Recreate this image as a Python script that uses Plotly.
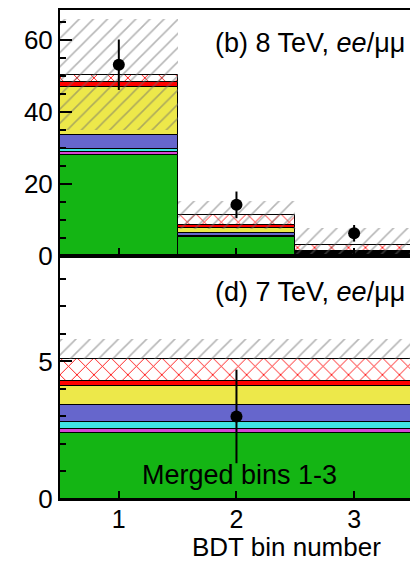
import numpy as np
import plotly.graph_objects as go

# ---------------- data ----------------
bins_top = [1, 2, 3]
# stacked components, bottom to top (8 TeV)
green_top = [28.0, 5.3, 0.5]
magenta_top = [0.8, 0.1, 0.1]
cyan_top = [0.8, 0.1, 0.1]
blue_top = [4.0, 1.0, 0.3]
yellow_top = [13.2, 1.3, 0.2]
red_top = [1.5, 0.8, 0.2]
redhatch_top = [2.0, 2.8, 1.6]
band_lo_top = [35.0, 7.4, 0.0]
band_hi_top = [65.7, 15.4, 7.9]
data_top = [53.1, 14.2, 6.3]
data_err_top = [7.0, 3.7, 2.3]

# 7 TeV merged bin
bins_bot = [2]
green_bot = [2.4]
magenta_bot = [0.15]
cyan_bot = [0.25]
blue_bot = [0.6]
yellow_bot = [0.7]
red_bot = [0.2]
redhatch_bot = [0.8]
band_lo_bot = [5.1]
band_hi_bot = [5.8]
data_bot = [3.0]
data_err_bot = [1.7]

GREEN = "#14B514"
MAGENTA = "#D545D5"
CYAN = "#3FE3E3"
BLUE = "#6666CC"
YELLOW = "#EDE84A"
RED = "#FF0000"

FONT = "Liberation Sans, Arial, Helvetica, sans-serif"
FS = 27
FS_TICK = 25

fig = go.Figure()


def add_stack(x, width, comps, xa, ya):
    base = np.zeros(len(x))
    for vals, col, hatch in comps:
        vals = np.array(vals, dtype=float)
        marker = dict(color=col, line=dict(color="black", width=1))
        if hatch:
            marker["pattern"] = dict(shape="x", fgcolor=RED, bgcolor="white",
                                     size=12, solidity=0.14, fillmode="replace")
        fig.add_trace(go.Bar(x=x, y=vals, base=base.copy(), width=width,
                             marker=marker, xaxis=xa, yaxis=ya,
                             showlegend=False, hoverinfo="skip"))
        base = base + vals


def add_band(x, width, lo, hi, xa, ya):
    lo = np.array(lo, dtype=float)
    hi = np.array(hi, dtype=float)
    fig.add_trace(go.Bar(x=x, y=hi - lo, base=lo, width=width,
                         marker=dict(color="rgba(0,0,0,0)",
                                     line=dict(width=0),
                                     pattern=dict(shape="/", fgcolor="#6e6e6e",
                                                  bgcolor="rgba(0,0,0,0)",
                                                  size=10, solidity=0.16,
                                                  fillmode="overlay")),
                         xaxis=xa, yaxis=ya, showlegend=False, hoverinfo="skip"))


def add_data(x, y, err, xa, ya):
    fig.add_trace(go.Scatter(x=x, y=y, mode="markers",
                             marker=dict(color="black", size=12),
                             error_y=dict(type="data", array=err, color="black",
                                          thickness=2, width=0),
                             xaxis=xa, yaxis=ya, showlegend=False, hoverinfo="skip"))


comps_top = [(green_top, GREEN, False), (magenta_top, MAGENTA, False),
             (cyan_top, CYAN, False), (blue_top, BLUE, False),
             (yellow_top, YELLOW, False), (red_top, RED, False),
             (redhatch_top, "white", True)]
comps_bot = [(green_bot, GREEN, False), (magenta_bot, MAGENTA, False),
             (cyan_bot, CYAN, False), (blue_bot, BLUE, False),
             (yellow_bot, YELLOW, False), (red_bot, RED, False),
             (redhatch_bot, "white", True)]

add_stack(bins_top, 1.0, comps_top, "x", "y")
add_band(bins_top, 1.0, band_lo_top, band_hi_top, "x", "y")
add_data(bins_top, data_top, data_err_top, "x", "y")

add_stack(bins_bot, 3.0, comps_bot, "x2", "y2")
add_band(bins_bot, 3.0, band_lo_bot, band_hi_bot, "x2", "y2")
add_data(bins_bot, data_bot, data_err_bot, "x2", "y2")

split = 243.0 / 489.0

common_x = dict(range=[0.5, 3.475], tickvals=[1, 2, 3], ticks="inside",
                ticklen=8, tickwidth=2, tickcolor="black", showline=True,
                linewidth=2, linecolor="black", mirror=True, showgrid=False,
                zeroline=False,
                tickfont=dict(family=FONT, size=FS_TICK, color="black"))
common_y = dict(ticks="inside", ticklen=12, tickwidth=2, tickcolor="black",
                showline=True, linewidth=2, linecolor="black", showgrid=False,
                zeroline=False,
                tickfont=dict(family=FONT, size=FS_TICK + 1, color="black"))

fig.update_layout(
    width=410, height=562,
    margin=dict(l=60, r=0, t=10, b=63),
    paper_bgcolor="white", plot_bgcolor="white",
    barmode="overlay", bargap=0,
    font=dict(family=FONT, size=FS, color="black"),
    xaxis=dict(common_x, anchor="y", showticklabels=False, domain=[0, 1]),
    yaxis=dict(common_y, domain=[split, 1], range=[0, 68.3],
               tickvals=[0, 20, 40, 60],
               minor=dict(ticks="inside", ticklen=6, tickwidth=2,
                          tickcolor="black", dtick=5, tick0=0)),
    xaxis2=dict(common_x, anchor="y2", showticklabels=True, domain=[0, 1],
                ticklabelstandoff=-3),
    yaxis2=dict(common_y, domain=[0, split], range=[0, 8.83],
                tickvals=[0, 5],
                minor=dict(ticks="inside", ticklen=6, tickwidth=2,
                           tickcolor="black", dtick=1, tick0=0)),
    annotations=[
        dict(text="(b) 8 TeV, <i>ee</i>/μμ", xref="paper", yref="paper",
             x=0.991, y=0.9325, xanchor="right", yanchor="middle",
             showarrow=False, font=dict(family=FONT, size=FS)),
        dict(text="(d) 7 TeV, <i>ee</i>/μμ", xref="paper", yref="paper",
             x=0.991, y=0.424, xanchor="right", yanchor="middle",
             showarrow=False, font=dict(family=FONT, size=FS)),
        dict(text="Merged bins 1-3", xref="paper", yref="paper",
             x=(239 - 60) / 350.0, y=(499 - 475) / 489.0, xanchor="center",
             yanchor="middle", showarrow=False, font=dict(family=FONT, size=FS)),
        dict(text="BDT bin number", xref="paper", yref="paper",
             x=(383 - 60) / 350.0, y=(499 - 547) / 489.0, xanchor="right",
             yanchor="middle", showarrow=False, font=dict(family=FONT, size=26)),
    ],
)

fig.write_html("out.html")
